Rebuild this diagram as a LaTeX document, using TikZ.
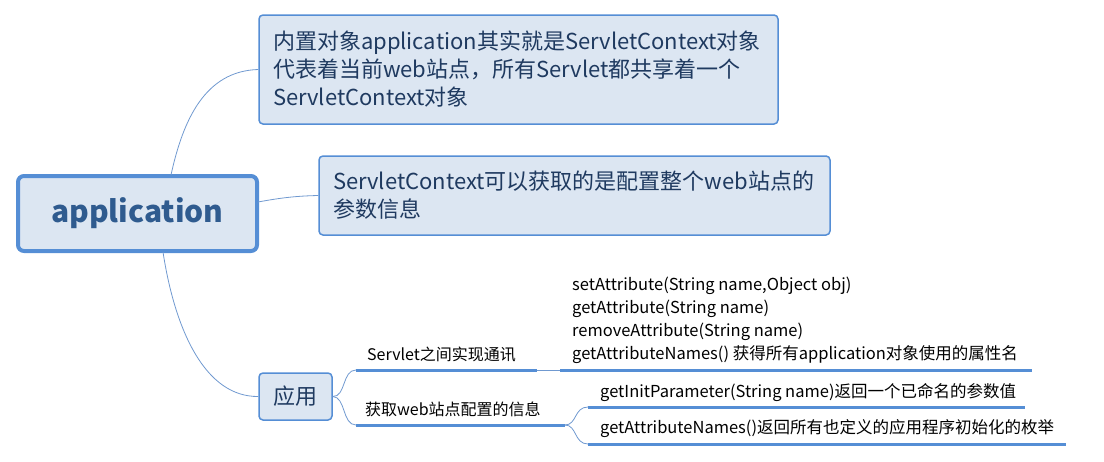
\documentclass[tikz,border=0pt]{standalone}
\usepackage{fontspec}
\setmainfont{Noto Sans CJK SC}
\definecolor{bd}{HTML}{558ED5}
\definecolor{fl}{HTML}{DCE6F2}
\definecolor{tx}{HTML}{1F3A60}
\definecolor{ttl}{HTML}{2F5B8F}
\definecolor{ln}{HTML}{7099D0}
\begin{document}
\begin{tikzpicture}[x=1pt,y=-1pt,
  box/.style={draw=bd,fill=fl,rounded corners=4pt,line width=1.5pt,text=tx,align=left,inner sep=0pt,font=\fontsize{22}{28}\selectfont},
  small/.style={inner sep=0pt,anchor=base west,font=\fontsize{16.5}{23}\selectfont,text=black},
  conn/.style={draw=ln,line width=0.8pt},
  uline/.style={draw=bd,line width=3pt},
  thin/.style={draw=ln,line width=1pt}]
\useasboundingbox (0,0) rectangle (1104,461);
% nodes
\node[box,line width=4pt,rounded corners=6pt,minimum width=239pt,minimum height=75pt,text=ttl,font=\fontsize{30}{36}\selectfont\bfseries,align=center] (app) at (137.5,213.5) {application};
\node[box,minimum width=519pt,minimum height=109pt,text width=491pt] (b1) at (518.5,69.5) {内置对象application其实就是ServletContext对象\\代表着当前web站点，所有Servlet都共享着一个\\ServletContext对象};
\node[box,minimum width=511pt,minimum height=79pt,text width=483pt] (b2) at (574.5,195.5) {ServletContext可以获取的是配置整个web站点的\\参数信息};
\node[box,minimum width=73pt,minimum height=47pt,align=center] (yy) at (295.5,396.5) {应用};
% texts
\node[small,font=\fontsize{16}{23}\selectfont] (t1) at (367,360) {Servlet之间实现通讯};
\node[small,font=\fontsize{16}{23}\selectfont] (t2) at (365,415) {获取web站点配置的信息};
\node[small,align=left,anchor=north west] (t3) at (572,277) {setAttribute(String name,Object obj)\\getAttribute(String name)\\removeAttribute(String name)\\getAttributeNames() 获得所有application对象使用的属性名};
\node[small] (t4) at (600,397) {getInitParameter(String name)返回一个已命名的参数值};
\node[small] (t5) at (600,433) {getAttributeNames()返回所有也定义的应用程序初始化的枚举};
% coordinates
\coordinate (a1) at (171,175);
\coordinate (a2) at (258,202);
\coordinate (a3) at (163,252);
\coordinate (u1a) at (356,370);
\coordinate (u1b) at (537,370);
\coordinate (u1c) at (560,370);
\coordinate (u1d) at (1032,370);
\coordinate (u2a) at (356,425);
\coordinate (u2b) at (565,425);
\coordinate (u3a) at (588,407);
\coordinate (u3b) at (1025,407);
\coordinate (u4a) at (588,444);
\coordinate (u4b) at (1066,444);
% connectors
\draw[conn] (a1) .. controls (183,120) and (205,71) .. (b1.west);
\draw[conn] (a2) .. controls (280,198) and (295,196) .. (b2.west);
\draw[conn] (a3) .. controls (175,330) and (205,397) .. (yy.west);
\draw[conn] (yy.east) .. controls (346,397) and (342,370) .. (u1a);
\draw[conn] (yy.east) .. controls (346,397) and (342,425) .. (u2a);
\draw[uline] (u1a) -- (u1b);
\draw[thin] (u1b) -- (u1c);
\draw[uline] (u1c) -- (u1d);
\draw[uline] (u2a) -- (u2b);
\draw[conn] (u2b) .. controls (577,425) and (574,407) .. (u3a);
\draw[conn] (u2b) .. controls (577,425) and (574,444) .. (u4a);
\draw[uline] (u3a) -- (u3b);
\draw[uline] (u4a) -- (u4b);
\end{tikzpicture}
\end{document}
